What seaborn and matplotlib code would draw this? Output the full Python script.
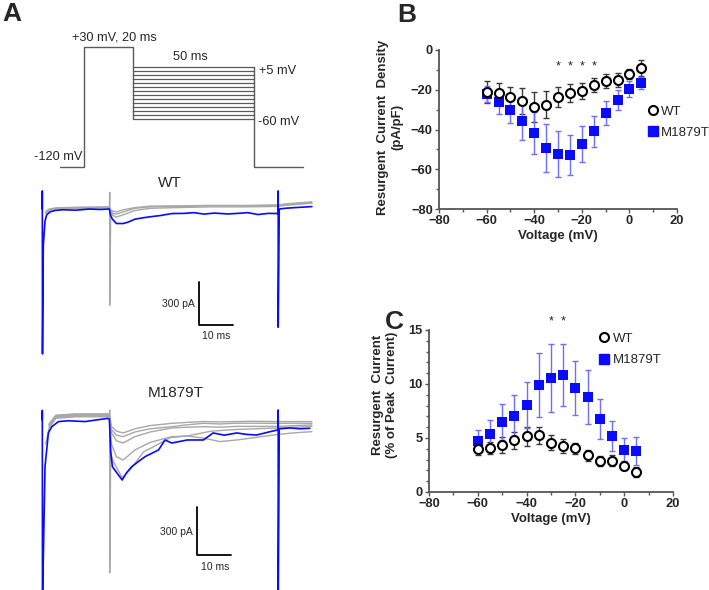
import numpy as np
import pandas as pd
import seaborn as sns
import matplotlib.pyplot as plt
from matplotlib.lines import Line2D
from matplotlib.ticker import MultipleLocator

sns.set_style("ticks")
plt.rcParams['font.family'] = ['Liberation Sans', 'DejaVu Sans']

W, H = 709, 590

# test voltages (mV)
voltage = [-60, -55, -50, -45, -40, -35, -30, -25, -20, -15, -10, -5, 0, 5]

# B: resurgent current density (pA/pF)
wt_density = [-21, -21.8, -23.5, -25.5, -28.5, -27.5, -23.5, -21.6, -20.8, -17.4, -15.6, -15.1, -12.2, -9.1]
wt_density_err = [5.5, 5, 5, 6.5, 7.5, 6.7, 5, 4.5, 4, 3.5, 3.5, 3.5, 2.5, 4]
mt_density = [-22, -26.2, -30.4, -35.7, -41.6, -49.2, -52.2, -53, -47.3, -41, -31.9, -25.2, -19.5, -16.6]
mt_density_err = [4, 6, 6.5, 9.5, 10.5, 12, 11.5, 10, 9, 8, 6, 5, 4, 3]
density_stars = [-30, -25, -20, -15]

# C: resurgent current (% of peak current)
wt_pct = [3.97, 4.1, 4.37, 4.8, 5.14, 5.26, 4.58, 4.25, 4.03, 3.4, 2.86, 2.89, 2.43, 1.88]
wt_pct_err = [0.5, 0.55, 0.75, 0.8, 0.9, 0.8, 0.7, 0.65, 0.5, 0.5, 0.45, 0.5, 0.4, 0.45]
mt_pct = [4.68, 5.35, 6.49, 7.08, 8.06, 9.88, 10.58, 10.83, 9.63, 8.8, 6.8, 5.17, 3.9, 3.82]
mt_pct_err = [1.05, 1.35, 1.7, 1.9, 2.15, 2.95, 3.13, 2.9, 2.5, 2.5, 1.85, 1.4, 1.1, 1.3]
pct_stars = [-30, -25]

# A: voltage protocol (ms, mV)
prepulse_t = [-10, 0, 0, 20, 20]
prepulse_v = [-120, -120, 30, 30, -60]
tail_t = [70, 70, 90]
tail_v = [5, -120, -120]

# A: current traces (ms, pA)
wt_blue_t = [0, 0, 0.05, 0.3, 0.8, 1.3, 2.3, 3.8, 6, 10, 14, 17, 19.9, 20.2, 20.8, 22, 24, 25.5, 27.5,
             30, 32.5, 35, 38.5, 42, 45, 48, 51, 55, 58, 61, 64, 67, 69.9, 70, 70, 70.3, 72, 75, 78, 80]
wt_blue_i = [0, 125, -1000, -250, -83, -40, -20, -10, -5, -8, 0, -3, 0, -40, -70, -100, -100, -90, -70,
             -60, -52, -45, -31, -30, -25, -35, -28, -34, -30, -25, -38, -30, -31, 125, -816, 0, 5, 10, 14, 17]
wt_gray_t = [[1, 2, 4, 10, 19.9, 20, 20, 20.3, 21, 22, 24, 27.5, 32, 40, 50, 60, 70, 72, 80],
             [1, 2, 4, 10, 19.9, 20.3, 21, 22, 24, 27.5, 32, 40, 50, 60, 70, 72, 80],
             [1, 2, 4, 10, 19.9, 20.3, 21, 22, 24, 27.5, 32, 40, 50, 60, 70, 72, 80]]
wt_gray_i = [[-30, -10, 0, 5, 8, 115, -664, -20, -45, -55, -40, -10, 5, 10, 15, 15, 18, 25, 40],
             [-25, -5, 5, 10, 12, -15, -30, -35, -20, 5, 15, 18, 22, 22, 25, 30, 45],
             [-20, 0, 8, 12, 15, -5, -15, -20, -5, 10, 20, 22, 25, 25, 28, 35, 50]]

mt_blue_t = [0, 0, 0.05, 0.8, 1.3, 1.8, 2.8, 4.8, 7.7, 12.7, 16, 19.4, 19.9, 20.3, 20.8, 22.6, 23.7, 25,
             26.5, 28.5, 30.5, 34.5, 36.4, 38.4, 43, 47.8, 50.7, 54, 57.7, 60.5, 63.6, 67.6, 69.9, 70, 70,
             70.3, 73.5, 76.5, 79.4]
mt_blue_i = [0, 60, -1150, -292, -187, -81, -42, -10, -5, -10, 0, 10, 5, -200, -292, -344, -375, -330,
             -292, -260, -229, -187, -125, -144, -125, -125, -81, -95, -81, -90, -94, -73, -62, 62, -1150,
             -55, -50, -55, -52]
mt_gray_t = [[1, 2, 4, 10, 19.9, 20, 20, 20.3, 20.8, 23.7, 26.5, 30, 34.5, 38, 43, 50, 57, 63, 70, 75, 80]] + \
            [[2, 4, 10, 19.9, 20.5, 22, 24, 27.5, 32, 38.4, 43, 47.8, 52.7, 57.7, 63, 70, 75, 80]] * 4
mt_gray_i = [[-150, -50, 10, 20, 20, 62, -954, -200, -250, -360, -300, -200, -150, -110, -100, -70, -60, -55, -50, -45, -40],
             [-40, 15, 25, 25, -150, -230, -250, -187, -140, -104, -100, -113, -135, -125, -110, -90, -80, -73],
             [-30, 20, 30, 30, -80, -130, -144, -104, -75, -50, -45, -42, -45, -40, -40, -40, -35, -31],
             [-30, 25, 35, 35, -60, -95, -104, -75, -55, -42, -30, -21, -25, -20, -20, -21, -20, -21],
             [-25, 30, 38, 38, -40, -70, -81, -55, -35, -21, -15, -10, -12, -10, -8, -10, -10, -10]]

BLUE = "#0a0aff"
GRAY = "#a8a8a8"


def px_axes(fig, left, top, right, bottom):
    return fig.add_axes([left / W, 1 - bottom / H, (right - left) / W, (bottom - top) / H])


fig = plt.figure(figsize=(W / 100, H / 100), dpi=100)

# ---------- Panel A: protocol ----------
axp = px_axes(fig, 40, 20, 320, 180)
axp.set_xlim(-18.2, 97)
axp.set_ylim(-136.2, 63.3)
axp.axis("off")
pc = "#5a5a5a"
axp.plot(prepulse_t, prepulse_v, color=pc, lw=1)
for v in voltage:
    axp.plot([20, 70], [v, v], color=pc, lw=0.9)
axp.plot(tail_t, tail_v, color=pc, lw=1)
axp.text(12.6, 41.2, "+30 mV, 20 ms", ha="center", va="center", fontsize=9.2)
axp.text(43.5, 17.5, "50 ms", ha="center", va="center", fontsize=9.2)
axp.text(71.8, -0.3, "+5 mV", ha="left", va="center", fontsize=9.2)
axp.text(71.4, -64.3, "-60 mV", ha="left", va="center", fontsize=9.2)
axp.text(-0.9, -107.5, "-120 mV", ha="right", va="center", fontsize=9.2)


def draw_traces(ax, gray_t, gray_i, blue_t, blue_i):
    for t, i in zip(gray_t, gray_i):
        sns.lineplot(x=t, y=i, ax=ax, color=GRAY, lw=1, sort=False, estimator=None)
    sns.lineplot(x=blue_t, y=blue_i, ax=ax, color=BLUE, lw=1.2, sort=False, estimator=None)
    ax.axis("off")


axw = px_axes(fig, 35, 185, 320, 375)
draw_traces(axw, wt_gray_t, wt_gray_i, wt_blue_t, wt_blue_i)
axw.set_xlim(-2.17, 82.4)
axw.set_ylim(-1146, 166)
axw.plot([46.6, 46.6, 56.6], [-502, -802, -802], color="black", lw=1.3)
axw.text(45.3, -656, "300 pA", ha="right", va="center", fontsize=7.5)
axw.text(51.5, -877, "10 ms", ha="center", va="center", fontsize=7.5)

axm = px_axes(fig, 35, 395, 320, 590)
draw_traces(axm, mt_gray_t, mt_gray_i, mt_blue_t, mt_blue_i)
axm.set_xlim(-2.17, 82.4)
axm.set_ylim(-1062, 156)
axm.plot([46, 46, 56], [-542, -844, -844], color="black", lw=1.3)
axm.text(44.6, -702, "300 pA", ha="right", va="center", fontsize=7.5)
axm.text(51.3, -917, "10 ms", ha="center", va="center", fontsize=7.5)

fig.text(170 / W, 1 - 183 / H, "WT", ha="center", va="center", fontsize=11)
fig.text(176 / W, 1 - 393 / H, "M1879T", ha="center", va="center", fontsize=11)


# ---------- Panels B and C ----------
def iv_panel(ax, wt, wt_err, mt, mt_err):
    ax.errorbar(voltage, wt, yerr=wt_err, fmt="none", ecolor="#3a3a3a", elinewidth=1,
                capsize=2.5, capthick=1, zorder=2)
    ax.errorbar(voltage, mt, yerr=mt_err, fmt="none", ecolor="#6f6fff", elinewidth=1,
                capsize=2.5, capthick=1, zorder=2)
    df = pd.DataFrame({"Voltage": voltage * 2, "value": list(wt) + list(mt),
                       "group": ["WT"] * len(voltage) + ["M1879T"] * len(voltage)})
    sns.scatterplot(data=df[df.group == "M1879T"], x="Voltage", y="value", ax=ax, marker="s",
                    color=BLUE, edgecolor=BLUE, s=44, linewidth=0, zorder=3, legend=False)
    sns.scatterplot(data=df[df.group == "WT"], x="Voltage", y="value", ax=ax, marker="o",
                    facecolor="white", edgecolor="black", s=42, linewidth=1.5, zorder=4, legend=False)
    sns.despine(ax=ax)
    for s in ["left", "bottom"]:
        ax.spines[s].set_color("#555555")
        ax.spines[s].set_linewidth(1.3)
    ax.set_xlim(-80, 20)
    ax.xaxis.set_major_locator(MultipleLocator(20))
    ax.xaxis.set_minor_locator(MultipleLocator(10))
    ax.tick_params(which="both", color="#555555", width=1, labelsize=9.3, pad=1.5)
    ax.tick_params(which="major", length=3)
    ax.tick_params(which="minor", length=2)
    ax.set_xlabel("Voltage (mV)", fontsize=9.5, fontweight="bold", labelpad=2)
    handles = [Line2D([], [], marker="o", ls="none", mfc="white", mec="black", mew=1.5, ms=6.5),
               Line2D([], [], marker="s", ls="none", mfc=BLUE, mec=BLUE, ms=6.5)]
    return handles


axb = px_axes(fig, 439, 50, 677, 209)
hb = iv_panel(axb, wt_density, wt_density_err, mt_density, mt_density_err)
axb.set_ylim(-80, 0)
axb.yaxis.set_major_locator(MultipleLocator(20))
axb.yaxis.set_minor_locator(MultipleLocator(10))
for lab in axb.get_xticklabels() + axb.get_yticklabels():
    lab.set_fontweight("bold")
axb.set_ylabel("Resurgent  Current  Density\n(pA/pF)", fontsize=9.5, fontweight="bold")
axb.yaxis.set_label_coords(-0.151, 0.516)
for v in density_stars:
    axb.text(v, -8.5, "*", ha="center", va="center", fontsize=9)
axb.legend(hb, ["WT", "M1879T"], loc="upper left", bbox_to_anchor=(0.87, 0.65), frameon=False,
           fontsize=9.5, handlelength=1, handletextpad=0.15, borderpad=0, borderaxespad=0,
           labelspacing=0.65)

axc = px_axes(fig, 429, 330, 673, 492)
hc = iv_panel(axc, wt_pct, wt_pct_err, mt_pct, mt_pct_err)
axc.set_ylim(0, 15)
axc.yaxis.set_major_locator(MultipleLocator(5))
axc.yaxis.set_minor_locator(MultipleLocator(1))
for lab in axc.get_xticklabels() + axc.get_yticklabels():
    lab.set_fontweight("bold")
axc.set_ylabel("Resurgent  Current\n(% of Peak  Current)", fontsize=9.5, fontweight="bold")
axc.yaxis.set_label_coords(-0.126, 0.599)
for v in pct_stars:
    axc.text(v, 15.8, "*", ha="center", va="center", fontsize=9, clip_on=False)
axc.legend(hc, ["WT", "M1879T"], loc="upper left", bbox_to_anchor=(0.69, 0.985), frameon=False,
           fontsize=9.5, handlelength=1, handletextpad=0.15, borderpad=0, borderaxespad=0,
           labelspacing=0.7)

# panel letters
fig.text(12 / W, 1 - 14 / H, "A", ha="center", va="center", fontsize=19, fontweight="bold")
fig.text(407 / W, 1 - 15 / H, "B", ha="center", va="center", fontsize=19, fontweight="bold")
fig.text(394 / W, 1 - 322 / H, "C", ha="center", va="center", fontsize=19, fontweight="bold")

fig.savefig("out.png", dpi=100)
